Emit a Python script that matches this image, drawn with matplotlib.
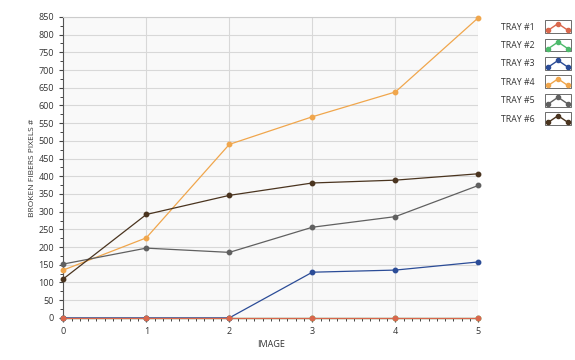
import matplotlib
matplotlib.use("Agg")
import matplotlib.pyplot as plt
from matplotlib.legend_handler import HandlerLine2D
from matplotlib.lines import Line2D
from matplotlib.patches import Rectangle
from matplotlib.ticker import MultipleLocator

plt.rcParams["font.family"] = ["Open Sans", "DejaVu Sans"]

images = [0, 1, 2, 3, 4, 5]
tray1 = [0, 0, 0, 0, 0, 0]
tray2 = [0, 0, 0, 0, 0, 0]
tray3 = [0, 0, 0, 129, 135, 158]
tray4 = [135, 226, 490, 568, 638, 848]
tray5 = [152, 197, 185, 256, 286, 374]
tray6 = [110, 292, 346, 381, 389, 407]

names = ["TRAY #1", "TRAY #2", "TRAY #3", "TRAY #4", "TRAY #5", "TRAY #6"]
series = [tray1, tray2, tray3, tray4, tray5, tray6]
colors = ["#d9674c", "#4dba6b", "#2b4c97", "#f0a64c", "#606060", "#4a341f"]


class CaretHandler(HandlerLine2D):
    """Legend icon: small framed box with a peaked line and three dots."""

    def create_artists(self, legend, orig, xd, yd, w, h, fontsize, trans):
        c = orig.get_color()
        box = Rectangle((-xd, -yd - 1), w, h + 2, fill=False,
                        edgecolor="#555555", lw=0.6, transform=trans)
        xs = [-xd + w * 0.12, -xd + w * 0.5, -xd + w * 0.88]
        ys = [-yd + h * 0.15, -yd + h * 0.8, -yd + h * 0.15]
        ln = Line2D(xs, ys, color=c, lw=1.0, marker="o", markersize=3,
                    transform=trans)
        return [box, ln]


fig = plt.figure(figsize=(5.75, 3.6), dpi=100)
ax = fig.add_axes([0.110, 0.117, 0.722, 0.836])
ax.set_facecolor("#f9f9f9")

# draw tray #1 last so it sits on top at zero
order = [1, 2, 3, 4, 5, 0]
for i in order:
    ax.plot(images, series[i], color=colors[i], lw=0.9, marker="o",
            markersize=3.2, label=names[i], zorder=3 + (i == 0), clip_on=False)

ax.set_xlim(0, 5)
ax.set_ylim(0, 850)
ax.xaxis.set_major_locator(MultipleLocator(1))
ax.xaxis.set_minor_locator(MultipleLocator(0.1))
ax.yaxis.set_major_locator(MultipleLocator(50))
ax.yaxis.set_minor_locator(MultipleLocator(25))
ax.grid(True, which="major", color="#d8d8d8", lw=0.8)
ax.set_axisbelow(True)
ax.tick_params(which="both", direction="out", colors="#444444",
               labelsize=6.5, labelcolor="#333333")
ax.tick_params(which="major", length=3, width=0.8)
ax.tick_params(which="minor", length=2, width=0.7)
ax.spines["right"].set_visible(False)
ax.spines["top"].set_color("#cccccc")
ax.spines["left"].set_color("#555555")
ax.spines["bottom"].set_color("#555555")

ax.set_xlabel("IMAGE", fontsize=6.5, color="#333333", labelpad=3)
ax.set_ylabel("BROKEN FIBERS PIXELS #", fontsize=6, color="#333333", labelpad=2)

handles, labels = ax.get_legend_handles_labels()
lookup = dict(zip(labels, handles))
hs = [lookup[n] for n in names]
leg = fig.legend(hs, names, loc="upper left", bbox_to_anchor=(0.858, 0.962),
                 frameon=False, markerfirst=False, fontsize=6.3,
                 handlelength=2.9, handleheight=1.4, labelspacing=0.95,
                 handletextpad=1.2,
                 handler_map={Line2D: CaretHandler()})
for t in leg.get_texts():
    t.set_color("#333333")

fig.savefig("out.png", dpi=100, facecolor="white")
